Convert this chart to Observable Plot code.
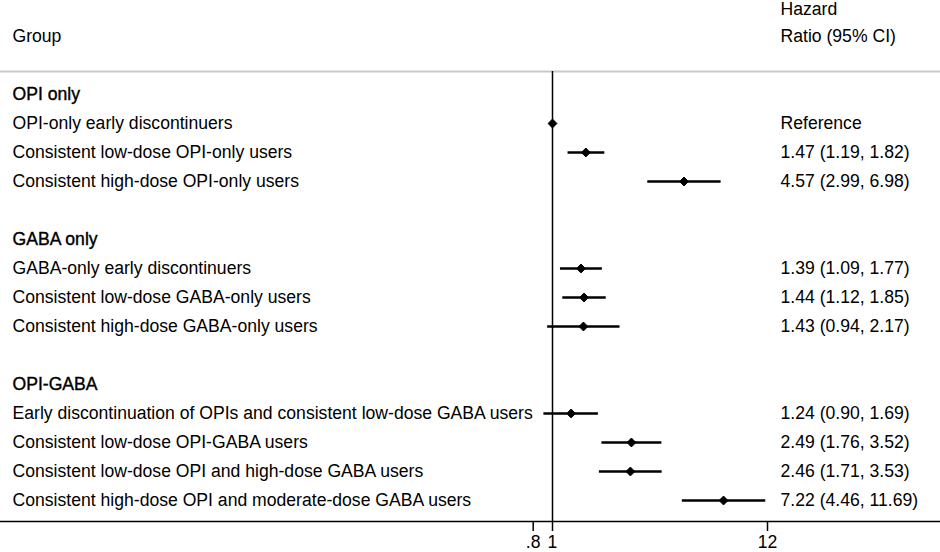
<!DOCTYPE html>
<html>
<head>
<meta charset="utf-8">
<script src="https://cdn.jsdelivr.net/npm/d3@7"></script>
<script src="https://cdn.jsdelivr.net/npm/@observablehq/plot@0.6"></script>
<style>
  html, body { margin: 0; padding: 0; background: #fff; }
  #chart svg { display: block; }
</style>
</head>
<body>
<div id="chart"></div>
<script>
const sections = ["OPI only", "GABA only", "OPI-GABA"];
const labels = [
  "OPI-only early discontinuers",
  "Consistent low-dose OPI-only users",
  "Consistent high-dose OPI-only users",
  "GABA-only early discontinuers",
  "Consistent low-dose GABA-only users",
  "Consistent high-dose GABA-only users",
  "Early discontinuation of OPIs and consistent low-dose GABA users",
  "Consistent low-dose OPI-GABA users",
  "Consistent low-dose OPI and high-dose GABA users",
  "Consistent high-dose OPI and moderate-dose GABA users"
];
const sectionOf = [0, 0, 0, 1, 1, 1, 2, 2, 2, 2];
const hr = [1, 1.47, 4.57, 1.39, 1.44, 1.43, 1.24, 2.49, 2.46, 7.22];
const lo = [null, 1.19, 2.99, 1.09, 1.12, 0.94, 0.90, 1.76, 1.71, 4.46];
const hi = [null, 1.82, 6.98, 1.77, 1.85, 2.17, 1.69, 3.52, 3.53, 11.69];
const hrText = [
  "Reference",
  "1.47 (1.19, 1.82)",
  "4.57 (2.99, 6.98)",
  "1.39 (1.09, 1.77)",
  "1.44 (1.12, 1.85)",
  "1.43 (0.94, 2.17)",
  "1.24 (0.90, 1.69)",
  "2.49 (1.76, 3.52)",
  "2.46 (1.71, 3.53)",
  "7.22 (4.46, 11.69)"
];
const xTicks = [0.8, 1, 12];
const xTickLabels = [".8", "1", "12"];
const headers = [
  {text: "Group", row: -2, col: "left"},
  {text: "Hazard", row: -3, col: "right"},
  {text: "Ratio (95% CI)", row: -2, col: "right"}
];

// build row layout: section header, its items, one blank row
const headerRows = [];
const itemRows = [];
let r = 0;
sections.forEach((s, si) => {
  headerRows.push({text: s, row: r});
  r++;
  labels.forEach((l, i) => {
    if (sectionOf[i] === si) {
      itemRows.push({label: l, row: r, hr: hr[i], lo: lo[i], hi: hi[i], txt: hrText[i]});
      r++;
    }
  });
  r++;
});
const ciRows = itemRows.filter(d => d.lo != null);

const font = "Arial, 'Liberation Sans', Helvetica, sans-serif";
const fs = 17.6;
const textCol = 768; // offset of the HR column from the left margin

const chart = Plot.plot({
  width: 940,
  height: 552,
  marginTop: 71,
  marginBottom: 31,
  marginLeft: 12,
  marginRight: 0,
  style: {fontFamily: font, fontSize: fs + "px", color: "#000", background: "#fff"},
  x: {type: "log", domain: [1, 12], range: [552, 767]},
  y: {domain: [0, 14], range: [94, 500], axis: null},
  marks: [
    Plot.frame({anchor: "top", stroke: "#c8c8c8", strokeWidth: 2, insetLeft: -12}),
    Plot.ruleX([1], {stroke: "#000", strokeWidth: 1.5}),
    Plot.frame({anchor: "bottom", stroke: "#000", strokeWidth: 1.5, insetLeft: -12}),
    Plot.axisX({
      ticks: xTicks,
      tickFormat: d => xTickLabels[xTicks.indexOf(d)],
      tickSize: 10,
      tickPadding: 4,
      fontSize: fs,
      stroke: "#000",
      strokeWidth: 1.5,
      label: null
    }),
    Plot.link(ciRows, {x1: "lo", x2: "hi", y1: "row", y2: "row", stroke: "#000", strokeWidth: 2.6}),
    Plot.dot(itemRows, {x: "hr", y: "row", symbol: "diamond2", r: 4, fill: "#000", stroke: "#000", strokeWidth: 1}),
    Plot.text(headers, {
      text: "text", y: "row",
      frameAnchor: "left", textAnchor: "start",
      fill: "#000", fontSize: fs,
      filter: d => d.col === "left"
    }),
    Plot.text(headers, {
      text: "text", y: "row",
      frameAnchor: "left", dx: textCol, dy: 1.5, textAnchor: "start",
      fill: "#000", fontSize: fs,
      filter: d => d.col === "right" && d.row === -3
    }),
    Plot.text(headers, {
      text: "text", y: "row",
      frameAnchor: "left", dx: textCol, textAnchor: "start",
      fill: "#000", fontSize: fs,
      filter: d => d.col === "right" && d.row !== -3
    }),
    Plot.text(headerRows, {
      text: "text", y: "row",
      frameAnchor: "left", textAnchor: "start",
      fill: "#000", stroke: "#000", strokeWidth: 0.4, fontSize: fs
    }),
    Plot.text(itemRows, {
      text: "label", y: "row",
      frameAnchor: "left", textAnchor: "start",
      fill: "#000", fontSize: fs
    }),
    Plot.text(itemRows, {
      text: "txt", y: "row",
      frameAnchor: "left", dx: textCol, textAnchor: "start",
      fill: "#000", fontSize: fs
    })
  ]
});
document.getElementById("chart").appendChild(chart);
</script>
</body>
</html>
